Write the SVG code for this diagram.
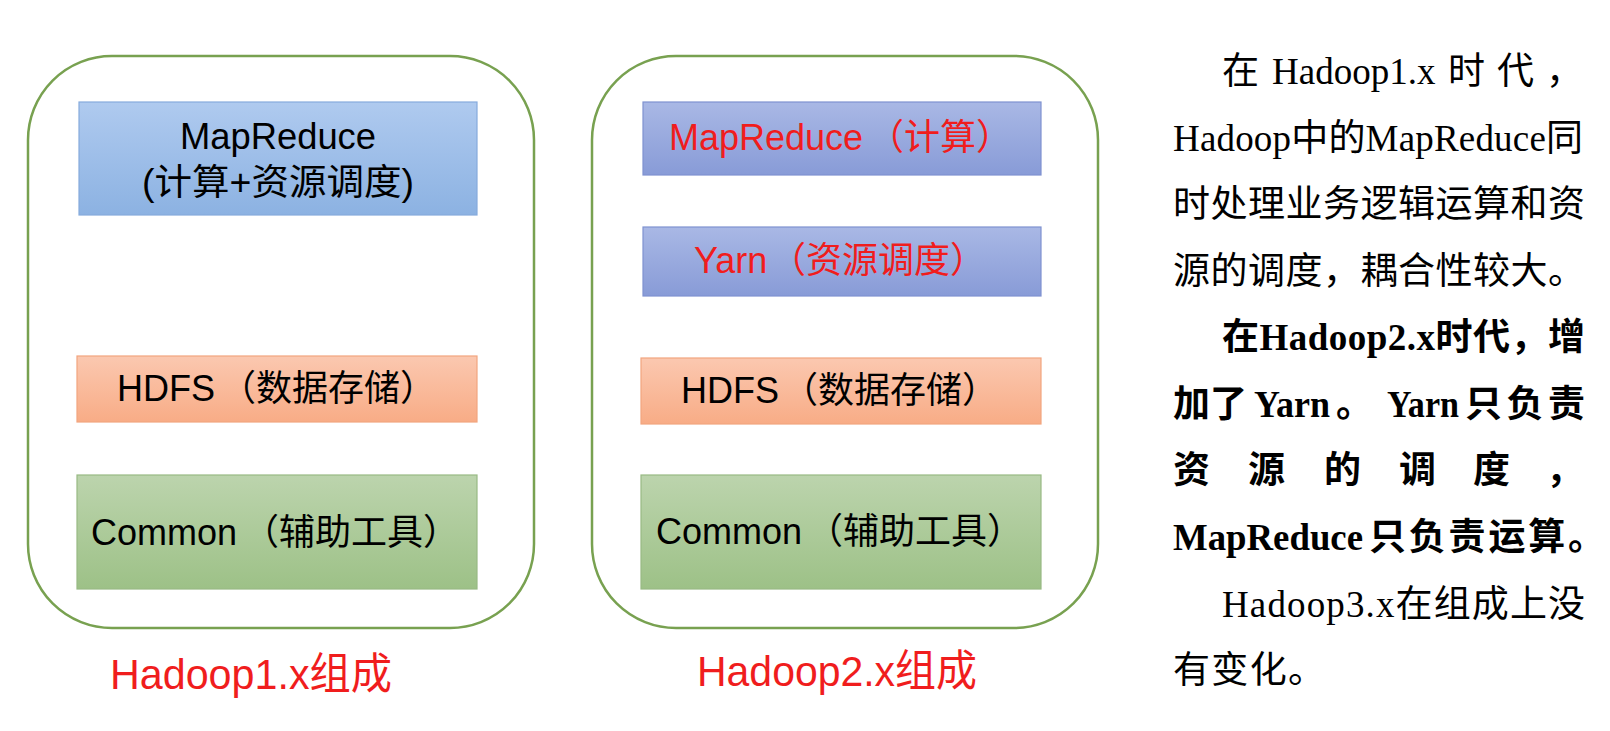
<svg xmlns="http://www.w3.org/2000/svg" width="1610" height="731" viewBox="0 0 1610 731">
<defs>
<linearGradient id="gBlue" x1="0" y1="0" x2="0" y2="1"><stop offset="0" stop-color="#AFCAEF"/><stop offset="1" stop-color="#8CB2E2"/></linearGradient>
<linearGradient id="gPurple" x1="0" y1="0" x2="0" y2="1"><stop offset="0" stop-color="#A9B8E5"/><stop offset="1" stop-color="#889BD7"/></linearGradient>
<linearGradient id="gOrange" x1="0" y1="0" x2="0" y2="1"><stop offset="0" stop-color="#FBC8B0"/><stop offset="1" stop-color="#F8AC86"/></linearGradient>
<linearGradient id="gGreen" x1="0" y1="0" x2="0" y2="1"><stop offset="0" stop-color="#BCD4AD"/><stop offset="1" stop-color="#9DC187"/></linearGradient>
<style>
.outer{fill:#FFFFFF;stroke:#78A150;stroke-width:2.5}
.bBlue{fill:url(#gBlue);stroke:#86ABDD;stroke-width:1.2}
.bPurple{fill:url(#gPurple);stroke:#7F92D0;stroke-width:1.2}
.bOrange{fill:url(#gOrange);stroke:#F2A57F;stroke-width:1.2}
.bGreen{fill:url(#gGreen);stroke:#98BA84;stroke-width:1.2}
.bt{font-family:"Liberation Sans","Noto Sans CJK SC",sans-serif;font-size:36px;fill:#000000}
.red{fill:#F01D1D}
.cap{font-family:"Liberation Sans","Noto Sans CJK SC",sans-serif;font-size:43px;fill:#F01D1D}
.p{font-family:"Liberation Serif","Noto Sans CJK SC",serif;font-size:37px;fill:#000000}
.pb{font-family:"Liberation Serif","Noto Sans CJK SC",serif;font-size:37px;font-weight:bold;fill:#000000}
</style>
</defs>
<rect width="1610" height="731" fill="#FFFFFF"/>

<g id="hadoop1">
<rect class="outer" x="28" y="56" width="506" height="572" rx="84" ry="84"/>
</g>
<g id="hadoop2">
<rect class="outer" x="592" y="56" width="506" height="572" rx="84" ry="84"/>
</g>

<g id="h1-mapreduce">
<rect class="bBlue" x="79" y="102" width="398" height="113"/>
<text class="bt" x="278" y="149" text-anchor="middle" textLength="196" lengthAdjust="spacingAndGlyphs">MapReduce</text>
<text class="bt" x="278" y="195" text-anchor="middle" textLength="272" lengthAdjust="spacingAndGlyphs">(计算+资源调度)</text>
</g>
<g id="h1-hdfs">
<rect class="bOrange" x="77" y="356" width="400" height="66"/>
<text class="bt" x="117" y="401">HDFS<tspan x="220">（数据存储）</tspan></text>
</g>
<g id="h1-common">
<rect class="bGreen" x="77" y="475" width="400" height="114"/>
<text class="bt" x="91" y="545">Common<tspan x="243">（辅助工具）</tspan></text>
</g>

<g id="h2-mapreduce">
<rect class="bPurple" x="643" y="102" width="398" height="73"/>
<text class="bt red" x="669" y="150">MapReduce<tspan x="868">（计算）</tspan></text>
</g>
<g id="h2-yarn">
<rect class="bPurple" x="643" y="227" width="398" height="69"/>
<text class="bt red" x="694" y="273">Yarn<tspan x="770">（资源调度）</tspan></text>
</g>
<g id="h2-hdfs">
<rect class="bOrange" x="641" y="358" width="400" height="66"/>
<text class="bt" x="681" y="403">HDFS<tspan x="782">（数据存储）</tspan></text>
</g>
<g id="h2-common">
<rect class="bGreen" x="641" y="475" width="400" height="114"/>
<text class="bt" x="656" y="544">Common<tspan x="807">（辅助工具）</tspan></text>
</g>

<g id="labels">
<text class="cap" x="110" y="689" textLength="282" lengthAdjust="spacingAndGlyphs">Hadoop1.x组成</text>
<text class="cap" x="697" y="686" textLength="280" lengthAdjust="spacingAndGlyphs">Hadoop2.x组成</text>
</g>

<g id="connectors"></g>

<g id="description">
<text class="p" x="1222" y="84">在</text>
<text class="p" x="1272" y="84">Hadoop1.x</text>
<text class="p" x="1448" y="84">时</text>
<text class="p" x="1497" y="84">代</text>
<text class="p" x="1546" y="84">，</text>
<text class="p" x="1173" y="151" textLength="410" lengthAdjust="spacing">Hadoop中的MapReduce同</text>
<text class="p" x="1173" y="217" textLength="412" lengthAdjust="spacing">时处理业务逻辑运算和资</text>
<text class="p" x="1173" y="284" textLength="412" lengthAdjust="spacing">源的调度，耦合性较大。</text>
<text class="pb" x="1222" y="350" textLength="363" lengthAdjust="spacing">在Hadoop2.x时代，增</text>
<text class="pb" x="1173" y="417">加了</text>
<text class="pb" x="1254" y="417" textLength="76" lengthAdjust="spacingAndGlyphs">Yarn</text>
<text class="pb" x="1336" y="417">。</text>
<text class="pb" x="1387" y="417" textLength="72" lengthAdjust="spacingAndGlyphs">Yarn</text>
<text class="pb" x="1465" y="417" textLength="120" lengthAdjust="spacing">只负责</text>
<text class="pb" x="1173" y="483">资</text>
<text class="pb" x="1248" y="483">源</text>
<text class="pb" x="1324" y="483">的</text>
<text class="pb" x="1399" y="483">调</text>
<text class="pb" x="1473" y="483">度</text>
<text class="pb" x="1546" y="483">，</text>
<text class="pb" x="1173" y="550" textLength="190" lengthAdjust="spacingAndGlyphs">MapReduce</text>
<text class="pb" x="1369" y="550" textLength="236" lengthAdjust="spacing">只负责运算。</text>
<text class="p" x="1222" y="617" textLength="363" lengthAdjust="spacing">Hadoop3.x在组成上没</text>
<text class="p" x="1173" y="683" textLength="152" lengthAdjust="spacing">有变化。</text>
</g>
</svg>
